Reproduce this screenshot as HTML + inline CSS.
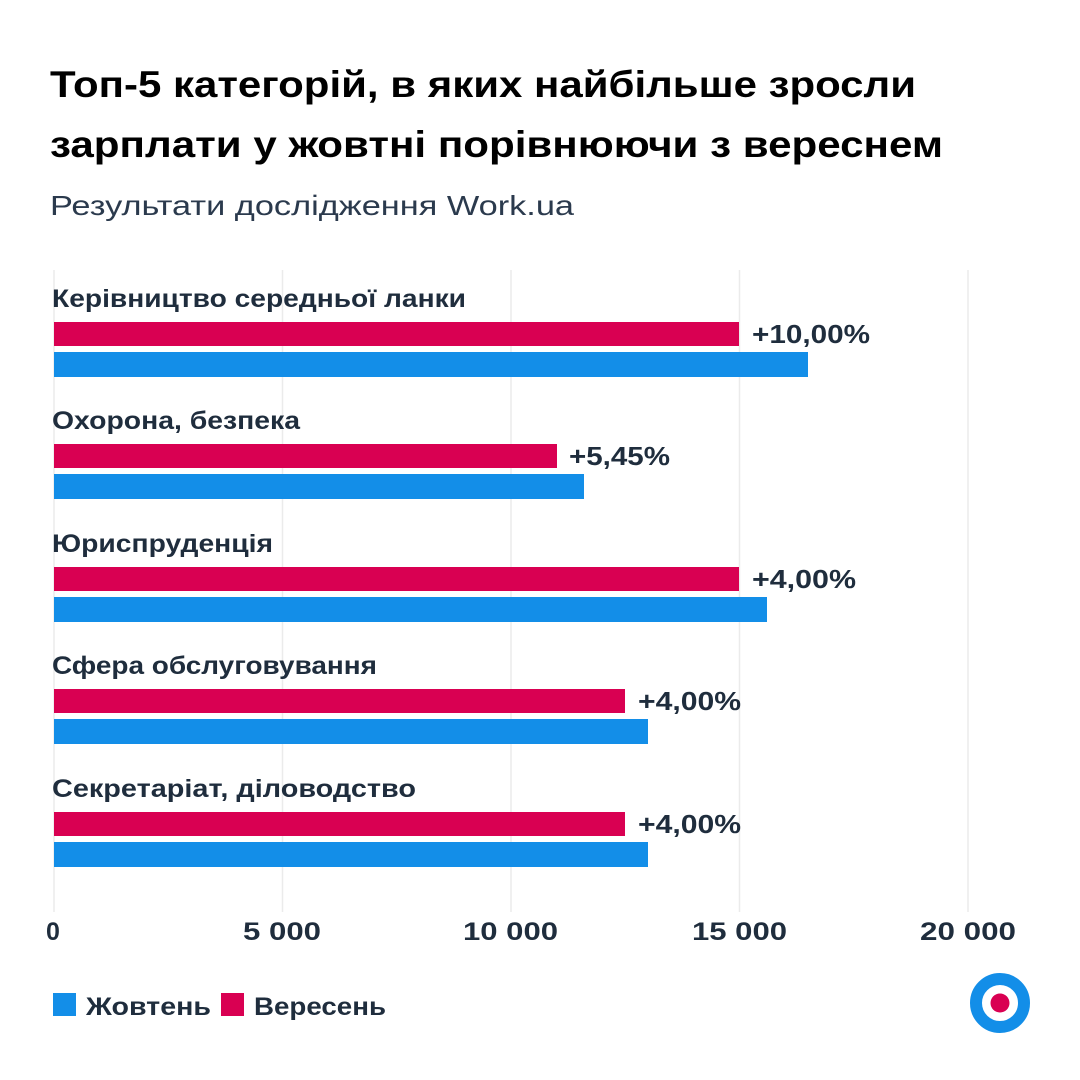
<!DOCTYPE html>
<html><head><meta charset="utf-8"><style>
html,body{margin:0;padding:0;background:#fff;}
svg{display:block;}
text{font-family:"Liberation Sans","DejaVu Sans",sans-serif;}
</style></head><body>
<svg width="1080" height="1080" viewBox="0 0 1080 1080" xmlns="http://www.w3.org/2000/svg">
<rect width="1080" height="1080" fill="#fff"/>
<text x="50" y="97" font-size="37" font-weight="bold" fill="#000" textLength="866" lengthAdjust="spacingAndGlyphs">Топ-5 категорій, в яких найбільше зросли</text>
<text x="50" y="157" font-size="37" font-weight="bold" fill="#000" textLength="893" lengthAdjust="spacingAndGlyphs">зарплати у жовтні порівнюючи з вереснем</text>
<text x="50" y="215" font-size="28" fill="#2b3a4d" textLength="524" lengthAdjust="spacingAndGlyphs">Результати дослідження Work.ua</text>
<g stroke="#ebebeb" stroke-width="1.5">
<line x1="54" y1="270" x2="54" y2="912"/>
<line x1="282.5" y1="270" x2="282.5" y2="912"/>
<line x1="511" y1="270" x2="511" y2="912"/>
<line x1="739.5" y1="270" x2="739.5" y2="912"/>
<line x1="968" y1="270" x2="968" y2="912"/>
</g>
<g font-size="25" font-weight="bold" fill="#1f2d3d" lengthAdjust="spacingAndGlyphs">
<text x="52" y="307" textLength="414" lengthAdjust="spacingAndGlyphs">Керівництво середньої ланки</text>
<text x="52" y="429" textLength="248" lengthAdjust="spacingAndGlyphs">Охорона, безпека</text>
<text x="52" y="552" textLength="221" lengthAdjust="spacingAndGlyphs">Юриспруденція</text>
<text x="52" y="674" textLength="325" lengthAdjust="spacingAndGlyphs">Сфера обслуговування</text>
<text x="52" y="797" textLength="364" lengthAdjust="spacingAndGlyphs">Секретаріат, діловодство</text>
</g>
<g fill="#d90052">
<rect x="54" y="322" width="685" height="24"/>
<rect x="54" y="444" width="503" height="24"/>
<rect x="54" y="567" width="685" height="24"/>
<rect x="54" y="689" width="571" height="24"/>
<rect x="54" y="812" width="571" height="24"/>
</g>
<g fill="#138ee8">
<rect x="54" y="352" width="754" height="25"/>
<rect x="54" y="474" width="530" height="25"/>
<rect x="54" y="597" width="713" height="25"/>
<rect x="54" y="719" width="594" height="25"/>
<rect x="54" y="842" width="594" height="25"/>
</g>
<g font-size="26" font-weight="bold" fill="#1f2d3d">
<text x="752" y="343" textLength="118" lengthAdjust="spacingAndGlyphs">+10,00%</text>
<text x="569" y="465" textLength="101" lengthAdjust="spacingAndGlyphs">+5,45%</text>
<text x="752" y="588" textLength="104" lengthAdjust="spacingAndGlyphs">+4,00%</text>
<text x="638" y="710" textLength="103" lengthAdjust="spacingAndGlyphs">+4,00%</text>
<text x="638" y="833" textLength="103" lengthAdjust="spacingAndGlyphs">+4,00%</text>
</g>
<g font-size="25" font-weight="bold" fill="#1f2d3d">
<text x="46" y="940">0</text>
<text x="243" y="940" textLength="78" lengthAdjust="spacingAndGlyphs">5 000</text>
<text x="463" y="940" textLength="95" lengthAdjust="spacingAndGlyphs">10 000</text>
<text x="692" y="940" textLength="95" lengthAdjust="spacingAndGlyphs">15 000</text>
<text x="920" y="940" textLength="96" lengthAdjust="spacingAndGlyphs">20 000</text>
</g>
<rect x="53" y="993" width="23" height="23" fill="#138ee8"/>
<text x="86" y="1015" font-size="25" font-weight="bold" fill="#1f2d3d" textLength="125" lengthAdjust="spacingAndGlyphs">Жовтень</text>
<rect x="221" y="993" width="23" height="23" fill="#d90052"/>
<text x="254" y="1015" font-size="25" font-weight="bold" fill="#1f2d3d" textLength="132" lengthAdjust="spacingAndGlyphs">Вересень</text>
<circle cx="1000" cy="1003" r="24" fill="none" stroke="#138ee8" stroke-width="12"/>
<circle cx="1000" cy="1003" r="9.5" fill="#d90052"/>
</svg>
</body></html>
